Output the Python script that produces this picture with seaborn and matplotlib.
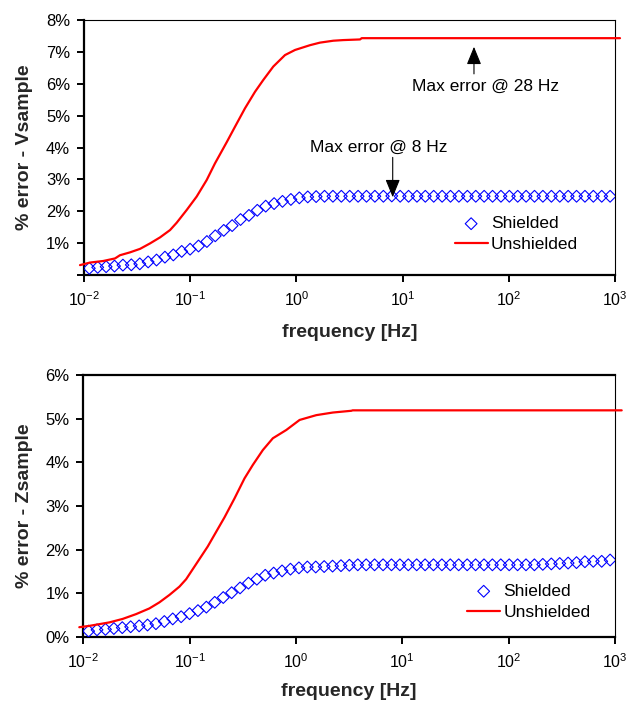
import numpy as np
import pandas as pd
import matplotlib
matplotlib.use("Agg")
import matplotlib.pyplot as plt
import seaborn as sns

# measurement frequencies of the shielded sweep [Hz]
freq = [0.01122, 0.01346, 0.01616, 0.01938, 0.02325, 0.02789, 0.0335, 0.04018, 0.04819, 0.05781,
        0.06934, 0.08318, 0.09977, 0.1197, 0.1436, 0.1722, 0.207, 0.2483, 0.2979, 0.3573,
        0.4285, 0.514, 0.6166, 0.7396, 0.8872, 1.066, 1.279, 1.534, 1.841, 2.208,
        2.649, 3.177, 3.811, 4.571, 5.483, 6.592, 7.907, 9.484, 11.38, 13.65,
        16.37, 19.63, 23.55, 28.25, 33.88, 40.74, 48.87, 58.61, 70.31, 84.33,
        101.2, 121.3, 145.5, 174.6, 209.4, 251.8, 302.0, 362.2, 434.5, 521.2,
        625.2, 749.9, 899.5]

shielded_v = [0.21, 0.24, 0.26, 0.28, 0.31, 0.32, 0.35, 0.41, 0.47, 0.56,
              0.63, 0.74, 0.81, 0.91, 1.05, 1.23, 1.40, 1.55, 1.74, 1.87,
              2.03, 2.16, 2.24, 2.31, 2.37, 2.42, 2.45, 2.46, 2.47, 2.47,
              2.47, 2.47, 2.47, 2.47, 2.47, 2.47, 2.48, 2.47, 2.47, 2.47,
              2.47, 2.47, 2.47, 2.47, 2.47, 2.47, 2.47, 2.47, 2.47, 2.47,
              2.47, 2.47, 2.47, 2.47, 2.47, 2.47, 2.47, 2.47, 2.47, 2.47,
              2.47, 2.47, 2.47]

shielded_z = [0.13, 0.16, 0.17, 0.19, 0.21, 0.23, 0.25, 0.27, 0.30, 0.35,
              0.41, 0.46, 0.53, 0.60, 0.68, 0.79, 0.90, 1.01, 1.12, 1.23,
              1.32, 1.41, 1.46, 1.51, 1.55, 1.58, 1.60, 1.60, 1.61, 1.62,
              1.63, 1.64, 1.65, 1.65, 1.65, 1.65, 1.65, 1.65, 1.65, 1.65,
              1.65, 1.65, 1.65, 1.65, 1.65, 1.65, 1.65, 1.65, 1.65, 1.65,
              1.65, 1.65, 1.65, 1.65, 1.66, 1.67, 1.68, 1.69, 1.70, 1.72,
              1.73, 1.73, 1.76]

# unshielded curves (coarser sampling)
unsh_v_freq = [0.00917, 0.01138, 0.0152, 0.0196, 0.0218, 0.0271, 0.0337, 0.0418, 0.052, 0.0646,
               0.0746, 0.0927, 0.115, 0.143, 0.171, 0.221, 0.264, 0.328, 0.408,
               0.488, 0.606, 0.781, 0.971, 1.343, 1.667, 2.225, 2.765, 3.973, 4.12, 1114]
unsh_v = [0.31, 0.39, 0.44, 0.52, 0.62, 0.71, 0.82, 0.99, 1.18, 1.41,
          1.64, 2.04, 2.46, 2.98, 3.50, 4.17, 4.65, 5.23, 5.75,
          6.12, 6.54, 6.90, 7.06, 7.21, 7.29, 7.35, 7.37, 7.39, 7.43, 7.43]

unsh_z_freq = [0.00917, 0.01138, 0.01415, 0.01758, 0.02346, 0.03135, 0.0418, 0.052, 0.0646, 0.0802,
               0.0927, 0.119, 0.148, 0.178, 0.213, 0.264, 0.328, 0.393, 0.488, 0.606,
               0.811, 1.082, 1.553, 2.225, 3.317, 3.41, 1156]
unsh_z = [0.22, 0.25, 0.29, 0.33, 0.41, 0.52, 0.65, 0.79, 0.96, 1.15,
          1.32, 1.72, 2.07, 2.41, 2.74, 3.17, 3.63, 3.94, 4.28, 4.55,
          4.74, 4.97, 5.08, 5.14, 5.18, 5.19, 5.19]

xticks = [1e-2, 1e-1, 1e0, 1e1, 1e2, 1e3]
xtick_labels = ["10$^{-2}$", "10$^{-1}$", "10$^{0}$", "10$^{1}$", "10$^{2}$", "10$^{3}$"]
v_yticks = [0, 1, 2, 3, 4, 5, 6, 7, 8]
v_ytick_labels = ["", "1%", "2%", "3%", "4%", "5%", "6%", "7%", "8%"]
z_yticks = [0, 1, 2, 3, 4, 5, 6]
z_ytick_labels = ["0%", "1%", "2%", "3%", "4%", "5%", "6%"]

sns.set_style("white")
plt.rcParams["font.family"] = ["Liberation Sans", "DejaVu Sans"]
plt.rcParams["mathtext.fontset"] = "custom"
plt.rcParams["mathtext.rm"] = "Liberation Sans"
plt.rcParams["mathtext.it"] = "Liberation Sans:italic"
plt.rcParams["text.color"] = "black"

fig = plt.figure(figsize=(6.32, 7.01), dpi=100)
ax_v = fig.add_axes([84 / 632, 1 - 275 / 701, 531 / 632, 255 / 701])
ax_z = fig.add_axes([83.3 / 632, 1 - 636.8 / 701, 531.7 / 632, 261.8 / 701])


def draw_panel(ax, sh, uf, uv, yticks, ylabels, ylabel, thick_top, xpad):
    sns.scatterplot(x=freq, y=sh, ax=ax, marker="D", s=36, facecolors="none",
                    edgecolor="#0000ff", linewidth=0.8, label="Shielded", zorder=3)
    sns.lineplot(x=uf, y=uv, ax=ax, color="#ff0000", lw=1.6, sort=False,
                 estimator=None, label="Unshielded", clip_on=False, zorder=4)
    ax.set_xscale("log")
    ax.set_xlim(1e-2, 1e3)
    ax.set_ylim(yticks[0], yticks[-1])
    ax.set_xticks(xticks, xtick_labels)
    ax.minorticks_off()
    ax.set_yticks(yticks, ylabels)
    ax.tick_params(axis="y", direction="out", length=5, width=1.4, pad=5,
                   labelsize=12, color="black", labelcolor="black", left=True)
    ax.tick_params(axis="x", direction="out", length=5, width=1.4, pad=6,
                   labelsize=11.5, color="black", labelcolor="black", bottom=True)
    ax.set_xlabel("frequency [Hz]", fontsize=14, fontweight="bold", labelpad=xpad)
    ax.set_ylabel(ylabel, fontsize=14, fontweight="bold", labelpad=9)
    for side in ["left", "bottom"]:
        ax.spines[side].set_linewidth(1.6)
        ax.spines[side].set_color("black")
    ax.spines["right"].set_linewidth(0.8)
    ax.spines["right"].set_color("black")
    ax.spines["top"].set_linewidth(1.6 if thick_top else 0.8)
    ax.spines["top"].set_color("black")


draw_panel(ax_v, shielded_v, unsh_v_freq, unsh_v, v_yticks, v_ytick_labels,
           "% error - Vsample", False, 11)
draw_panel(ax_z, shielded_z, unsh_z_freq, unsh_z, z_yticks, z_ytick_labels,
           "% error - Zsample", True, 8.5)

# legends
for ax, anchor in [(ax_v, (0.698, 0.231)), (ax_z, (0.722, 0.203))]:
    ax.legend(loc="upper left", bbox_to_anchor=anchor, frameon=False, fontsize=12.5,
              handlelength=1.9, handletextpad=0.2, labelspacing=0.35,
              borderpad=0, borderaxespad=0)

# annotations on the Vsample panel
arrow = dict(arrowstyle="-|>,head_length=1.1,head_width=0.45", color="black",
             lw=0.8, shrinkA=0, shrinkB=0, mutation_scale=10)
ax_v.annotate("", xy=(47, 7.16), xytext=(47, 6.31), arrowprops=arrow)
ax_v.text(60, 5.93, "Max error @ 28 Hz", ha="center", va="center", fontsize=12.5)
ax_v.annotate("", xy=(8.07, 2.44), xytext=(8.07, 3.69), arrowprops=arrow)
ax_v.text(5.94, 3.99, "Max error @ 8 Hz", ha="center", va="center", fontsize=12.5)

fig.savefig("out.png", dpi=100)
